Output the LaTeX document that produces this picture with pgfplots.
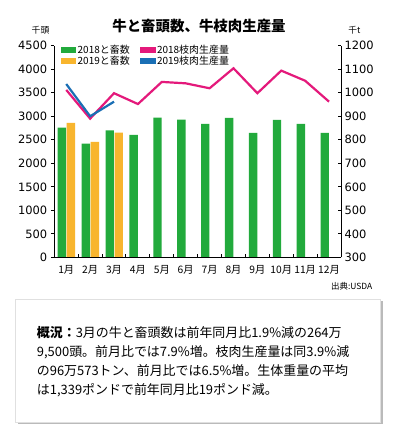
\documentclass[border=0pt]{standalone}
\usepackage{fontspec}
\setmainfont{Noto Sans CJK JP}
\newfontfamily\numfont{DejaVu Sans}
\usepackage{pgfplots}
\pgfplotsset{compat=1.18}
\usetikzlibrary{shadows}
\definecolor{cgreen}{HTML}{22AA3C}
\definecolor{corange}{HTML}{F8B52E}
\definecolor{cpink}{HTML}{E4197B}
\definecolor{cblue}{HTML}{1A6FB5}
\begin{document}
\begin{tikzpicture}
\useasboundingbox (0,0) rectangle (393bp,433bp);
\fill[white] (0,0) rectangle (393bp,433bp);
% left axis: bars
\begin{axis}[
  at={(54.3bp,175.6bp)}, anchor=south west,
  scale only axis, width=286.7bp, height=211.7bp,
  xmin=0.5, xmax=12.5, ymin=0, ymax=4500,
  axis y line*=left, axis x line*=bottom,
  axis line style={line width=1pt, -},
  tick style={line width=1pt, black},
  tick align=outside, major tick length=3.5bp,
  ytick={0,500,...,4500},
  xtick={1,...,12},
  xticklabels={1月,2月,3月,4月,5月,6月,7月,8月,9月,10月,11月,12月},
  xtick style={draw=none},
  x tick label style={font=\fontsize{10.3}{11}\selectfont, yshift=-1bp},
  y tick label style={font=\numfont\fontsize{11.5}{12}\selectfont},
  /pgf/number format/assume math mode=true,
  /pgf/number format/1000 sep={},
  clip=false,
]
\addplot[ybar, fill=cgreen, draw=none, bar width=8.4bp, bar shift=-4.3bp]
  coordinates {(1,2757)(2,2417)(3,2700)(4,2602)(5,2970)(6,2928)(7,2836)(8,2964)(9,2645)(10,2921)(11,2836)(12,2645)};
\addplot[ybar, fill=corange, draw=none, bar width=8.4bp, bar shift=4.7bp]
  coordinates {(1,2857)(2,2455)(3,2650)};
\end{axis}
% right axis: lines
\begin{axis}[
  at={(54.3bp,175.6bp)}, anchor=south west,
  scale only axis, width=286.7bp, height=211.7bp,
  xmin=0.5, xmax=12.5, ymin=300, ymax=1200,
  axis y line*=right, axis x line*=bottom,
  axis line style={line width=1pt, -},
  tick style={line width=1pt, black},
  tick align=inside, major tick length=3.5bp,
  ytick={300,400,...,1200},
  xtick={1.5,2.5,...,11.5},
  xticklabels={},
  y tick label style={font=\numfont\fontsize{11.5}{12}\selectfont},
  /pgf/number format/assume math mode=true,
  /pgf/number format/1000 sep={},
  legend columns=2,
  legend style={at={(0.022,1.014)}, anchor=north west, draw=none, fill=none,
    font=\fontsize{10}{11}\selectfont, inner sep=0pt,
    row sep=-2.5bp,
    nodes={inner xsep=1.5bp},
    /tikz/every even column/.append style={column sep=9bp}},
  legend cell align=left,
  legend image code/.code={\fill[#1, draw=none] (0bp,-3.2bp) rectangle (15.4bp,3.2bp);},
]
\addlegendimage{fill=cgreen, draw=none}
\addlegendentry{2018と畜数}
\addlegendimage{fill=cpink, draw=none}
\addlegendentry{2018枝肉生産量}
\addlegendimage{fill=corange, draw=none}
\addlegendentry{2019と畜数}
\addlegendimage{fill=cblue, draw=none}
\addlegendentry{2019枝肉生産量}
\addplot[cpink, line width=2.2bp, forget plot]
  coordinates {(1,1012)(2,890)(3,998)(4,952)(5,1046)(6,1040)(7,1019)(8,1104)(9,998)(10,1094)(11,1051)(12,962)};
\addplot[cblue, line width=2.2bp, forget plot]
  coordinates {(1,1037)(2,900)(3,962)};
\end{axis}
% title and units
\node[font=\bfseries\fontsize{14.5}{16}\selectfont] at (199bp,407bp) {牛と畜頭数、牛枝肉生産量};
\node[font=\fontsize{8.8}{10}\selectfont] at (40.5bp,402.5bp) {千頭};
\node[font=\fontsize{8.8}{10}\selectfont] at (354.3bp,402.5bp) {千t};
\node[font=\fontsize{8.5}{10}\selectfont] at (351.7bp,147bp) {出典:USDA};
% summary box
\draw[draw=black!12, fill=white, drop shadow={shadow xshift=2.5bp, shadow yshift=-2.5bp, fill=black!45, opacity=0.6}]
  (15bp,11.3bp) rectangle (380bp,134bp);
\node[anchor=base west, inner sep=0pt, text width=345bp, align=left,
  font=\fontsize{13}{18.9}\selectfont] at (36.7bp,95bp)
  {\textbf{概況：}3月の牛と畜頭数は前年同月比1.9\%減の264万\\
   9,500頭。前月比では7.9\%増。枝肉生産量は同3.9\%減\\
   の96万573トン、前月比では6.5\%増。生体重量の平均\\
   は1,339ポンドで前年同月比19ポンド減。};
\end{tikzpicture}
\end{document}
